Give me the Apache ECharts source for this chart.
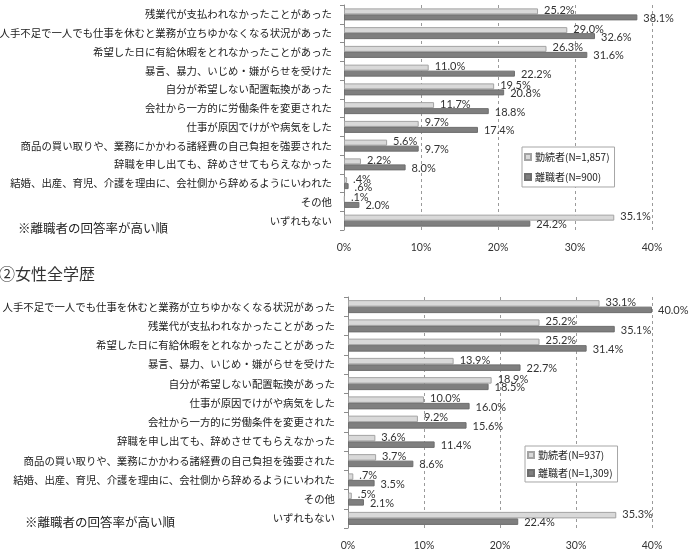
<!DOCTYPE html>
<html>
<head>
<meta charset="utf-8">
<script src="https://cdn.jsdelivr.net/npm/echarts@6/dist/echarts.min.js"></script>
<style>
  html, body { margin: 0; padding: 0; background: #fff; }
  #chart { width: 690px; height: 554px; }
</style>
</head>
<body>
<div id="chart"></div>
<script>
// top chart (male, all education levels)
const menCategories = [
  '残業代が支払われなかったことがあった',
  '人手不足で一人でも仕事を休むと業務が立ちゆかなくなる状況があった',
  '希望した日に有給休暇をとれなかったことがあった',
  '暴言、暴力、いじめ・嫌がらせを受けた',
  '自分が希望しない配置転換があった',
  '会社から一方的に労働条件を変更された',
  '仕事が原因でけがや病気をした',
  '商品の買い取りや、業務にかかわる諸経費の自己負担を強要された',
  '辞職を申し出ても、辞めさせてもらえなかった',
  '結婚、出産、育児、介護を理由に、会社側から辞めるようにいわれた',
  'その他',
  'いずれもない'
];
const menStayers = [25.2, 29.0, 26.3, 11.0, 19.5, 11.7, 9.7, 5.6, 2.2, 0.4, 0.1, 35.1];
const menLeavers = [38.1, 32.6, 31.6, 22.2, 20.8, 18.8, 17.4, 9.7, 8.0, 0.6, 2.0, 24.2];

// bottom chart (female, all education levels)
const womenCategories = [
  '人手不足で一人でも仕事を休むと業務が立ちゆかなくなる状況があった',
  '残業代が支払われなかったことがあった',
  '希望した日に有給休暇をとれなかったことがあった',
  '暴言、暴力、いじめ・嫌がらせを受けた',
  '自分が希望しない配置転換があった',
  '仕事が原因でけがや病気をした',
  '会社から一方的に労働条件を変更された',
  '辞職を申し出ても、辞めさせてもらえなかった',
  '商品の買い取りや、業務にかかわる諸経費の自己負担を強要された',
  '結婚、出産、育児、介護を理由に、会社側から辞めるようにいわれた',
  'その他',
  'いずれもない'
];
const womenStayers = [33.1, 25.2, 25.2, 13.9, 18.9, 10.0, 9.2, 3.6, 3.7, 0.7, 0.5, 35.3];
const womenLeavers = [40.0, 35.1, 31.4, 22.7, 18.5, 16.0, 15.6, 11.4, 8.6, 3.5, 2.1, 22.4];

const xTicks = [0, 10, 20, 30, 40];

const menLegend = ['勤続者(N=1,857)', '離職者(N=900)'];
const womenLegend = ['勤続者(N=937)', '離職者(N=1,309)'];

const CJK = '"Noto Sans CJK JP", "Noto Sans", sans-serif';
const LATIN = 'Lato, "Noto Sans", sans-serif';

function pct(p) {
  let s = p.value.toFixed(1);
  if (s.startsWith('0.')) s = s.slice(1);
  return s + '%';
}

const lightStyle = { color: '#d9d9d9', borderColor: '#a3a3a3', borderWidth: 1 };
const darkStyle = { color: '#7f7f7f', borderColor: '#6e6e6e', borderWidth: 1 };

function barSeries(name, data, idx, style, width, dy) {
  return {
    name,
    type: 'bar',
    xAxisIndex: idx,
    yAxisIndex: idx,
    data,
    barWidth: width,
    barGap: '0%',
    itemStyle: style,
    label: {
      show: true,
      position: 'right',
      distance: 6,
      offset: [0, dy],
      formatter: pct,
      color: '#333',
      fontFamily: LATIN,
      fontSize: 11
    },
    silent: true,
    animation: false
  };
}

function xAxis(idx) {
  return {
    type: 'value',
    gridIndex: idx,
    min: xTicks[0],
    max: xTicks[xTicks.length - 1],
    interval: 10,
    axisLine: { show: false },
    axisTick: { show: false },
    axisLabel: { formatter: '{value}%', color: '#333', fontFamily: LATIN, fontSize: 10.5, margin: 12 },
    splitLine: { show: true, lineStyle: { color: '#9a9a9a', type: [3, 3], width: 1 } }
  };
}

function yAxis(idx, cats, margin) {
  return {
    type: 'category',
    gridIndex: idx,
    data: cats,
    inverse: true,
    axisLine: { show: true, lineStyle: { color: '#8c8c8c' } },
    axisTick: { show: true, length: 4, lineStyle: { color: '#8c8c8c' } },
    axisLabel: { color: '#222', fontFamily: CJK, fontSize: 10.4, margin: margin }
  };
}

function legend(names, left, top, gap, pad) {
  return {
    data: names,
    orient: 'vertical',
    left, top,
    itemWidth: 6,
    itemHeight: 6,
    itemGap: gap,
    padding: pad,
    backgroundColor: '#fff',
    borderColor: '#a6a6a6',
    borderWidth: 1,
    icon: 'rect',
    textStyle: { fontFamily: CJK, fontSize: 10, color: '#222', padding: [0, 0, 0, -1] }
  };
}

const chart = echarts.init(document.getElementById('chart'), null, { renderer: 'canvas' });

chart.setOption({
  animation: false,
  title: [
    { text: '②女性全学歴', left: -1, top: 266, padding: 0,
      textStyle: { fontFamily: CJK, fontSize: 16, fontWeight: 'normal', color: '#333' } },
    { text: '※離職者の回答率が高い順', left: 18, top: 222, padding: 0,
      textStyle: { fontFamily: CJK, fontSize: 12.5, fontWeight: 'normal', color: '#222' } },
    { text: '※離職者の回答率が高い順', left: 25, top: 516, padding: 0,
      textStyle: { fontFamily: CJK, fontSize: 12.5, fontWeight: 'normal', color: '#222' } }
  ],
  legend: [
    legend(menLegend, 522, 147, 10, [5, 5, 5, 2]),
    legend(womenLegend, 525, 446, 8, [4, 5, 4, 2])
  ],
  grid: [
    { left: 344, top: 5, width: 308, height: 225, outerBoundsMode: 'none' },
    { left: 348, top: 297, width: 304, height: 231, outerBoundsMode: 'none' }
  ],
  xAxis: [xAxis(0), xAxis(1)],
  yAxis: [yAxis(0, menCategories, 12), yAxis(1, womenCategories, 13)],
  series: [
    barSeries(menLegend[0], menStayers, 0, lightStyle, 6, -1),
    barSeries(menLegend[1], menLeavers, 0, darkStyle, 6, 1),
    barSeries(womenLegend[0], womenStayers, 1, lightStyle, 6.5, -1),
    barSeries(womenLegend[1], womenLeavers, 1, darkStyle, 6.5, 1)
  ]
});
</script>
</body>
</html>
